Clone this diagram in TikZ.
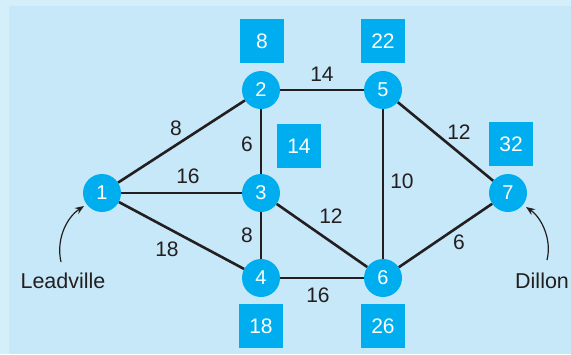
\documentclass[tikz,border=0pt]{standalone}
\usepackage{fontspec}
\setmainfont{Liberation Sans}
\usetikzlibrary{arrows.meta}
\definecolor{outerbg}{HTML}{D4EEFA}
\definecolor{innerbg}{HTML}{C6E8F8}
\definecolor{cyanfill}{HTML}{00AEEF}
\definecolor{inkline}{HTML}{231F20}
\tikzset{
  city/.style={circle, fill=cyanfill, minimum size=38pt, inner sep=0pt, text=white, font=\fontsize{20}{20}\selectfont},
  tag/.style={rectangle, fill=cyanfill, minimum size=44pt, inner sep=0pt, text=white, font=\fontsize{21}{21}\selectfont},
  road/.style={draw=inkline, line width=2.6pt},
  lbl/.style={text=inkline, inner sep=0pt, font=\fontsize{21}{21}\selectfont},
  pointer/.style={draw=inkline, line width=1.2pt, -{Stealth[length=9pt,width=7pt]}}
}
\begin{document}
\begin{tikzpicture}[x=1pt,y=-1pt]
\useasboundingbox (0,0) rectangle (571,354);
\fill[outerbg] (0,0) rectangle (571,354);
\fill[innerbg] (9,6) rectangle (571,354);
% cities
\node[city] (n1) at (102,193) {1};
\node[city] (n2) at (261,90) {2};
\node[city] (n3) at (261,193) {3};
\node[city] (n4) at (261,278) {4};
\node[city] (n5) at (383,90) {5};
\node[city] (n6) at (383,278) {6};
\node[city] (n7) at (508,193) {7};
% roads
\draw[road] (n1) -- (n2);
\draw[road] (n1) -- (n3);
\draw[road] (n1) -- (n4);
\draw[road] (n2) -- (n3);
\draw[road] (n2) -- (n5);
\draw[road] (n3) -- (n4);
\draw[road] (n3) -- (n6);
\draw[road] (n4) -- (n6);
\draw[road] (n5) -- (n6);
\draw[road] (n5) -- (n7);
\draw[road] (n6) -- (n7);
% road labels
\node[lbl] (l12) at (176,128) {8};
\node[lbl] (l13) at (188,176) {16};
\node[lbl] (l14) at (167,249) {18};
\node[lbl] (l23) at (247,144) {6};
\node[lbl] (l34) at (247,235) {8};
\node[lbl] (l25) at (322,74) {14};
\node[lbl] (l36) at (331,216) {12};
\node[lbl] (l46) at (318,295) {16};
\node[lbl] (l56) at (402,181) {10};
\node[lbl] (l57) at (459,132) {12};
\node[lbl] (l67) at (459,242) {6};
% tags
\node[tag] (t2) at (262,41) {8};
\node[tag] (t3) at (299,146) {14};
\node[tag] (t5) at (383,41) {22};
\node[tag] (t7) at (511,144) {32};
\node[tag] (t4) at (261,326) {18};
\node[tag] (t6) at (383,326) {26};
% place names
\node[lbl, font=\fontsize{21.5}{21.5}\selectfont] (lead) at (63,281) {Leadville};
\node[lbl, font=\fontsize{21.5}{21.5}\selectfont, anchor=west] (dill) at (515,281) {Dillon};
\coordinate (leadtip) at (84,206);
\coordinate (dilltip) at (526,207);
\draw[pointer] (61,262) .. controls (56,240) and (66,218) .. (leadtip);
\draw[pointer] (547,260) .. controls (552,240) and (542,218) .. (dilltip);
\end{tikzpicture}
\end{document}
